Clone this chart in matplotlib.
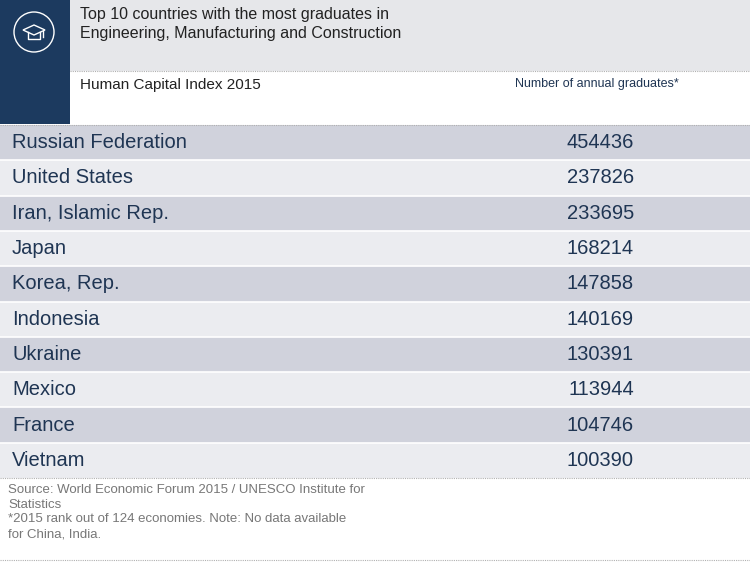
import matplotlib
matplotlib.use("Agg")
import matplotlib.pyplot as plt
from matplotlib.patches import Rectangle, Circle, Polygon

plt.rcParams['font.family'] = ['Liberation Sans', 'DejaVu Sans']

countries = ["Russian Federation", "United States", "Iran, Islamic Rep.", "Japan",
             "Korea, Rep.", "Indonesia", "Ukraine", "Mexico", "France", "Vietnam"]
graduates = [454436, 237826, 233695, 168214, 147858, 140169, 130391, 113944, 104746, 100390]

title = "Top 10 countries with the most graduates in\nEngineering, Manufacturing and Construction"
subtitle = "Human Capital Index 2015"
col_header = "Number of annual graduates*"
footer = ("Source: World Economic Forum 2015 / UNESCO Institute for\nStatistics\n"
          "*2015 rank out of 124 economies. Note: No data available\nfor China, India.")

W, H = 750, 564
fig = plt.figure(figsize=(7.5, 5.64), dpi=100)
ax = fig.add_axes([0, 0, 1, 1])
ax.set_xlim(0, W)
ax.set_ylim(H, 0)
ax.axis('off')

navy = "#1c3a5f"
txt = "#1f3553"

# header
ax.add_patch(Rectangle((0, 0), W, 71, color="#e6e7ea", lw=0))
ax.add_patch(Rectangle((0, 71), W, 53, color="white", lw=0))
ax.add_patch(Rectangle((0, 0), 70, 124, color=navy, lw=0))
ax.plot([70, W], [71, 71], ls=(0, (1, 1)), color="#b0b0b0", lw=0.8)
ax.plot([0, W], [124.5, 124.5], ls=(0, (1, 1)), color="#b0b0b0", lw=0.8)

# icon
ax.add_patch(Circle((34, 32), 20, fill=False, ec="white", lw=1))
ax.add_patch(Polygon([[23, 30], [34, 25], [45, 30], [34, 35]], closed=True, fill=False, ec="white", lw=1))
ax.plot([28, 28, 40, 40], [32, 39, 39, 32], color="white", lw=1)
ax.plot([43, 43], [31, 37], color="white", lw=1)

ax.text(80, 7, title, fontsize=11.5, color="#222222", va='top', ha='left', linespacing=1.3)
ax.text(80, 85, subtitle, fontsize=11, color="#222222", va='center', ha='left')
ax.text(515, 84, col_header, fontsize=9, color=txt, va='center', ha='left')

# rows
top, rh = 125, 35.3
ys = [top + rh * (i + 0.5) for i in range(len(countries))]
cols = ["#d0d2dc" if i % 2 == 0 else "#ebecf0" for i in range(len(countries))]
ax.barh(ys, [W] * len(ys), height=rh, left=0, color=cols, linewidth=0)
for i in range(1, len(countries)):
    ax.plot([0, W], [top + rh * i] * 2, color="white", lw=1.2)
for y, c, v in zip(ys, countries, graduates):
    ax.text(12, y, c, fontsize=14.5, color=txt, va='center', ha='left')
    ax.text(634, y, str(v), fontsize=14.5, color=txt, va='center', ha='right')

bottom = top + rh * len(countries)
ax.plot([0, W], [bottom, bottom], ls=(0, (1, 1)), color="#b0b0b0", lw=0.8)
ax.plot([0, W], [560, 560], ls=(0, (1, 1)), color="#b0b0b0", lw=0.8)
ax.text(8, 484, footer, fontsize=9.5, color="#777777", va='top', ha='left', linespacing=1.3)

fig.savefig("out.png", dpi=100)
